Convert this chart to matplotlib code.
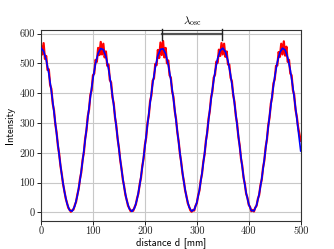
import numpy as np
import matplotlib
matplotlib.use("Agg")
import matplotlib.pyplot as plt

# Fit curve values (every 5 mm)
fit_d = list(range(0, 501, 5))
fit_I = [551, 541, 512, 466, 406, 337, 264, 192, 125, 70, 30, 7, 4, 21, 56, 107, 171, 242, 316, 387,
         449, 500, 534, 550, 546, 523, 482, 426, 359, 286, 213, 144, 85, 40, 12, 3, 14, 44, 91, 151,
         220, 294, 366, 432, 486, 526, 547, 549, 532, 496, 444, 380, 308, 235, 164, 102, 52, 18, 4, 9,
         33, 75, 132, 199, 271, 345, 413, 472, 516, 543, 551, 539, 508, 461, 400, 330, 257, 185, 119, 65,
         27, 6, 5, 24, 61, 113, 178, 249, 323, 393, 455, 504, 537, 551, 545, 519, 477, 419, 352, 279, 206]

# Measured values (every 2.5 mm)
meas_d = [i * 2.5 for i in range(201)]
meas_I = [560, 530, 568, 515, 525, 478, 480, 428, 414, 365, 342, 296, 268, 224, 196, 155, 128, 94, 72, 47,
          32, 15, 9, 2, 7, 9, 24, 35, 60, 78, 112, 134, 176, 200, 248, 274, 322, 345, 394, 410,
          460, 466, 512, 505, 552, 528, 572, 530, 566, 520, 540, 492, 496, 444, 436, 386, 366, 318, 291, 246,
          217, 175, 147, 110, 88, 58, 42, 22, 14, 4, 6, 5, 17, 26, 48, 63, 95, 116, 156, 180,
          226, 251, 300, 324, 373, 392, 442, 450, 498, 494, 545, 518, 570, 528, 575, 520, 552, 500, 510, 460,
          452, 405, 387, 340, 313, 268, 239, 196, 168, 129, 105, 73, 55, 31, 20, 7, 2, 8, 6, 22,
          31, 56, 73, 107, 129, 170, 195, 241, 267, 314, 340, 387, 406, 452, 462, 506, 502, 546, 525, 568,
          530, 566, 522, 540, 496, 496, 452, 440, 393, 371, 325, 299, 253, 225, 181, 156, 116, 95, 62, 49,
          25, 18, 4, 8, 3, 16, 22, 45, 58, 91, 110, 150, 174, 219, 244, 292, 318, 365, 386, 433,
          446, 492, 493, 538, 522, 566, 530, 574, 526, 556, 505, 512, 466, 460, 410, 394, 344, 322, 286, 262,
          240]

lam_start, lam_end = 233, 349
x_ticks = [0, 100, 200, 300, 400, 500]
y_ticks = [0, 100, 200, 300, 400, 500, 600]

plt.rcParams['mathtext.fontset'] = 'cm'
fig = plt.figure(figsize=(3.34, 2.49), dpi=100)
ax = fig.add_axes([0.1228, 0.1137, 0.9003 - 0.1228, 0.8795 - 0.1137])

ax.plot(meas_d, meas_I, color='red', lw=1.6, zorder=2)
ax.plot(fit_d, fit_I, color='blue', lw=1.2, zorder=3)

ax.set_xlim(0, 500)
ax.set_ylim(-28, 612)
ax.set_xticks(x_ticks)
ax.set_yticks(y_ticks)
ax.grid(True, color='#c8c8c8', lw=0.8, zorder=0)
ax.set_axisbelow(True)

for lab in ax.get_xticklabels() + ax.get_yticklabels():
    lab.set_fontfamily('cmr10')
    lab.set_fontsize(7.5)
ax.tick_params(length=3, width=0.7, pad=1.5, colors='#222222')
for s in ax.spines.values():
    s.set_linewidth(0.8)
    s.set_color('#333333')

ax.set_xlabel('distance d [mm]', fontfamily='cmss10', fontsize=7.5, labelpad=0.5)
ax.set_ylabel('Intensity', fontfamily='cmss10', fontsize=7.5, labelpad=3)

# lambda bracket
ax.plot([lam_start, lam_end], [597, 597], color='#555555', lw=1.6, clip_on=False, zorder=4)
ax.plot([lam_start, lam_start], [577, 614], color='#222222', lw=1.0, clip_on=False, zorder=4)
ax.plot([lam_end, lam_end], [577, 614], color='#222222', lw=1.0, clip_on=False, zorder=4)
ax.text((lam_start + lam_end) / 2, 620, r'$\lambda_{\rm osc}$', ha='center', va='bottom', fontsize=8)

fig.savefig('out.png', dpi=100)
